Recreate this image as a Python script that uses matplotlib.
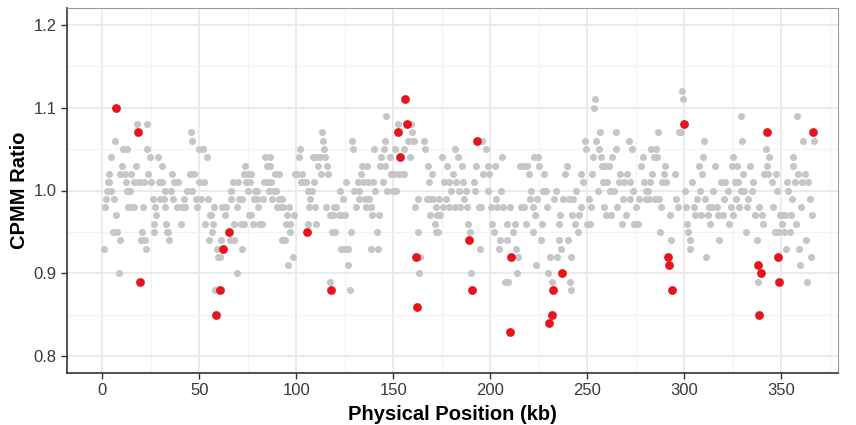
import matplotlib
matplotlib.use("Agg")
import matplotlib.pyplot as plt
from matplotlib.ticker import MultipleLocator

# graue Punkte (Position kb, Ratio)
x_grau = [0.9, 1.4, 1.7, 2.2, 2.8, 3.1, 3.5, 4.3, 4.5, 5.2, 5.9, 6.4, 7.2, 7.6, 8.3, 8.8, 9.1, 9.8,
          10.7, 11.4, 12.2, 12.7, 12.7, 13.4, 14.1, 14.6, 15.0, 16.0, 16.5, 17.2, 17.7, 18.6, 19.6,
          20.3, 20.8, 21.2, 22.0, 22.4, 22.9, 23.2, 23.7, 24.4, 25.2, 25.8, 26.3, 26.8, 27.2, 27.7,
          28.4, 28.9, 29.9, 30.6, 30.9, 31.5, 32.0, 32.3, 32.8, 33.4, 34.0, 34.4, 35.1, 35.8, 36.3,
          36.9, 38.3, 38.7, 40.4, 40.9, 41.8, 42.6, 43.5, 44.9, 45.6, 46.1, 46.4, 47.3, 48.3, 48.8,
          49.5, 50.0, 50.9, 51.6, 52.1, 52.9, 53.8, 54.3, 54.7, 55.2, 56.0, 56.4, 57.2, 57.6, 58.1,
          58.9, 59.5,
          60.5, 61.0, 61.7, 63.1, 63.9, 65.7, 66.2, 66.5, 67.2, 67.7, 67.9, 69.1, 69.4, 69.9, 70.5,
          71.2, 71.7, 72.0, 72.9, 73.0, 73.7, 74.2, 74.8, 75.1, 75.4, 76.1, 76.5, 76.8, 77.7, 78.0,
          78.5, 79.4, 79.9, 80.3, 80.8, 82.0, 82.8, 83.4, 84.0, 84.6, 85.4, 85.8, 86.3, 86.6, 87.1,
          87.5, 88.3, 88.9, 89.7, 89.9, 90.9, 91.1, 91.8, 92.3, 92.6, 93.3, 94.0, 94.5, 95.2, 95.4,
          96.1, 96.6, 96.9, 98.3, 98.8, 99.5, 100.2, 101.2, 101.7, 102.1, 102.6, 104.0, 104.7,
          105.7, 106.0, 106.5, 106.9, 107.8, 108.3, 109.1, 109.5, 110.3, 110.3, 111.2, 112.0, 112.6,
          113.3, 113.8, 114.3, 114.6, 115.0, 115.5, 116.3, 117.2, 117.5, 118.4, 118.9, 119.4, 120.1,
          120.6, 121.8, 122.4, 122.9, 123.2,
          123.9, 124.8, 124.8, 125.6, 126.5, 126.8, 127.7, 128.2, 128.7, 129.2, 129.9, 130.8, 131.6,
          132.0, 132.5, 133.3, 133.9, 134.2, 135.4, 135.9, 136.4, 137.1, 137.6, 138.2, 138.5, 139.0,
          139.4, 139.9, 140.6, 141.6, 141.9, 142.8, 143.1, 143.7, 144.5, 145.0, 145.4, 145.9, 146.2,
          146.8, 148.0, 148.5, 148.8, 149.7, 150.5, 151.0, 151.4, 152.6, 153.1, 154.8, 155.3, 155.7,
          157.4, 158.3, 159.1, 159.6, 160.0, 160.8, 161.2, 162.6, 162.9, 163.4, 163.9, 166.0, 166.5,
          167.4, 167.7, 168.2, 168.7, 169.1, 169.8, 170.3, 171.2, 171.7, 172.2, 172.5, 173.2, 173.7,
          174.2, 174.9, 175.4, 176.3, 177.2, 177.7, 178.4, 178.9, 179.7, 180.6, 181.5, 181.8, 182.3,
          183.2, 184.0, 184.5, 185.2, 185.8, 186.6,
          187.3, 187.8, 188.5, 189.5, 189.9, 191.3, 191.9, 192.5, 194.2, 194.5, 195.0, 195.9, 196.4,
          197.6, 198.5, 198.8, 199.3, 200.2, 201.0, 201.6, 202.4, 202.9, 203.6, 204.5, 205.0, 205.7,
          206.2, 206.7, 207.4, 208.4, 208.8, 209.1, 209.9, 211.4, 212.6, 213.4, 213.9, 214.4, 215.3,
          216.0, 217.0, 217.4, 218.2, 219.1, 219.9, 220.5, 220.8, 221.7, 222.2, 222.5, 223.0, 223.4,
          223.9, 224.6, 225.1, 225.9, 226.5, 227.2, 227.7, 228.5, 229.4, 229.9, 230.8, 232.0, 232.8,
          233.7, 234.5, 235.1, 235.6, 235.9, 236.6, 237.6, 238.5, 239.4, 240.0, 240.6, 241.1, 241.4,
          241.8, 242.3, 242.8, 243.7, 244.0, 244.9, 245.7, 246.6, 246.9, 247.9, 248.6, 249.1, 250.0,
          250.7, 251.2, 251.6, 252.4, 253.0, 253.3, 253.8, 254.5, 255.3, 255.9, 256.7, 257.1, 257.6,
          257.9, 258.8, 259.3, 259.6, 260.2, 261.0, 261.5, 262.2, 262.7, 263.6, 264.5, 265.0, 265.3,
          266.2, 267.0, 267.9, 268.4, 269.1, 270.1, 270.5, 271.3, 271.8, 272.2, 273.0, 273.4, 273.9,
          275.3, 276.0, 276.8, 277.7, 278.7, 279.4, 280.0, 280.4, 281.1, 281.6, 282.5, 282.8, 283.4,
          284.2, 284.7, 285.4, 285.9, 286.3, 286.8, 287.3, 288.0, 288.5, 289.4, 290.2, 290.7, 292.5,
          293.3, 295.0, 295.9, 296.6, 297.1, 298.5, 298.8, 299.3, 300.2, 300.9, 301.4, 301.9, 302.8,
          303.1, 304.0, 304.8, 305.7, 306.6, 307.4, 307.9, 308.6, 309.1, 309.6, 310.3, 310.8, 311.4,
          312.0, 312.6, 313.4,
          314.1, 314.6, 315.8, 316.7, 317.5, 318.1, 318.7, 319.8, 320.5, 321.0, 322.7, 323.2, 323.9,
          324.4, 324.9, 325.3, 326.1, 326.7, 327.0, 327.9, 328.4, 329.1, 329.2, 329.7, 330.4, 330.9,
          331.8, 332.5, 333.0, 333.9, 334.7, 335.6, 336.4, 337.3, 338.2, 338.7, 339.9, 340.7, 341.3,
          342.1, 342.5, 343.3, 343.8, 345.0, 345.9, 346.8, 347.3, 347.6, 348.5, 349.3, 350.2, 350.7,
          351.4, 351.9, 352.4, 353.1, 353.6, 354.5, 355.0, 355.3, 355.9, 356.2, 357.1, 357.6, 358.3,
          358.8, 359.3, 359.6, 360.0, 360.5, 361.4, 362.2, 362.7, 363.1, 363.9, 364.8, 365.3, 366.0,
          366.9]
y_grau = [0.93, 0.98, 0.99, 1.00, 1.01, 1.02, 1.01, 1.04, 1.00, 0.95, 0.99, 1.06, 0.97, 0.95, 0.90, 0.94, 1.02, 1.03,
          1.05, 1.02, 1.01, 1.05, 1.00, 0.98, 1.00, 1.02, 0.98, 1.01, 0.98, 1.03, 1.08, 1.01, 0.94,
          0.95, 0.98, 1.01, 0.94, 0.93, 1.05, 1.08, 1.02, 1.04, 1.01, 0.99, 0.96, 0.95, 0.98, 0.97,
          1.04, 1.01, 0.99, 1.01, 1.03, 0.99, 0.98, 1.00, 0.96, 0.95, 0.95, 0.94, 1.00, 1.02, 0.99,
          1.01, 0.98, 1.01, 0.96, 0.98, 0.99, 0.98, 1.00, 1.02, 1.07, 1.06, 1.00, 1.02, 0.99, 0.98,
          1.01, 1.05, 0.99, 1.05, 1.01, 0.96, 1.04, 0.99, 0.94, 0.97, 0.97, 0.95, 0.96, 0.98, 0.88,
          0.93, 0.92,
          0.92, 0.94, 0.98, 0.97, 0.98, 0.94, 0.99, 1.00, 1.01, 0.96, 0.94, 0.90, 0.98, 1.01, 0.99,
          0.96, 0.93, 0.99, 0.96, 1.02, 1.03, 1.01, 1.02, 1.00, 0.97, 1.01, 1.02, 0.97, 0.96, 0.99,
          1.00, 0.99, 1.00, 0.98, 0.96, 0.96, 0.99, 1.01, 1.04, 1.03, 1.01, 1.00, 1.04, 1.03, 1.01,
          0.99, 1.00, 1.02, 1.00, 0.98, 1.02, 0.99, 0.98, 0.94, 0.99, 0.98, 0.94, 0.96, 0.97, 0.91,
          0.98, 0.95, 0.96, 0.92, 0.97, 1.02, 1.02, 1.04, 1.05, 1.01, 1.02, 1.01, 1.01,
          1.00, 0.96, 0.98, 0.99, 1.00, 1.04, 1.01, 0.98, 1.04, 0.96, 1.03, 1.04, 1.02,
          1.07, 1.06, 1.05, 1.04, 0.98, 1.03, 1.02, 0.97, 0.89, 0.95, 0.97, 0.98, 0.95,
          0.98, 0.97, 1.00, 0.93, 0.97,
          0.99, 0.97, 0.93, 1.01, 0.93, 0.91, 0.88, 0.95, 1.06, 1.05, 1.00, 0.98, 1.01,
          0.99, 1.00, 1.02, 1.03, 1.01, 0.99, 0.98, 1.03, 1.01, 0.99, 0.98, 0.93, 0.97,
          1.01, 1.05, 1.00, 0.95, 0.93, 0.97, 1.03, 1.04, 1.01, 1.05, 1.06, 1.03, 1.09,
          1.00, 1.04, 1.02, 1.02, 1.00, 1.02, 1.05, 1.00, 1.08, 1.02, 1.02, 1.05, 1.02,
          1.06, 1.04, 1.08, 1.07, 1.06, 1.06, 0.98, 0.95, 0.99, 0.90, 0.92, 1.06, 1.05,
          0.99, 1.03, 1.01, 0.99, 0.97, 1.02, 0.99, 0.96, 0.95, 0.98, 0.97, 0.95, 0.99,
          0.97, 1.04, 0.98, 1.01, 0.99, 1.03, 0.98, 1.01, 1.00, 1.02, 1.05, 0.98, 1.01,
          1.04, 1.00, 0.98, 1.03, 1.01, 0.99,
          1.00, 0.98, 0.96, 0.95, 0.90, 1.01, 1.00, 1.03, 0.98, 0.93, 0.98, 1.06, 1.02,
          1.05, 1.00, 1.03, 1.02, 0.98, 0.96, 0.95, 1.03, 0.99, 0.98, 0.93, 0.94, 1.00,
          1.04, 0.98, 0.89, 0.94, 0.96, 0.89, 0.98, 0.95, 0.96, 0.93, 0.90, 0.92, 1.03,
          0.98, 1.03, 0.98, 0.96, 1.03, 1.02, 0.99, 1.00, 0.95, 0.98, 1.04, 0.97, 0.91,
          0.99, 1.04, 1.03, 0.94, 0.96, 1.00, 1.02, 1.00, 0.98, 0.90, 0.92, 0.89, 0.99,
          1.00, 0.92, 0.94, 0.96, 0.97, 0.93, 0.99, 1.02, 1.03, 0.94, 0.99, 0.89, 0.88,
          0.92, 0.97, 0.99, 0.96, 1.00, 0.95, 0.97, 0.98, 1.02, 1.01, 1.06, 1.05, 0.96,
          0.99, 0.96, 0.98, 1.02, 1.04, 1.10, 1.11, 1.06, 1.00, 1.05, 1.07, 1.04, 1.03,
          1.01, 0.98, 1.03, 0.97, 1.01, 1.03, 1.00, 0.97, 1.04, 1.00, 1.07, 1.05, 0.98,
          1.01, 1.02, 0.96, 0.99, 1.01, 0.97, 1.02, 1.06, 1.01, 0.99, 1.05, 1.00, 0.96,
          0.98, 0.96, 0.99, 1.03, 1.04, 1.01, 0.99, 1.00, 1.00, 0.99, 1.01, 1.05, 1.02,
          1.04, 0.99, 1.05, 1.04, 1.07, 0.99, 0.95, 0.98, 1.01, 1.02, 1.03, 1.01, 0.97,
          0.94, 1.02, 0.99, 0.98, 1.07, 1.07, 1.12, 1.11, 1.00, 0.98, 0.96, 0.95, 0.94,
          0.93, 1.01, 0.98, 0.97, 0.99, 1.03, 1.00, 0.97, 1.02, 1.04, 1.06, 0.99, 0.92,
          0.97, 0.98, 0.96,
          0.98, 1.00, 1.03, 0.98, 0.97, 0.94, 1.01, 0.97, 0.99, 1.01, 1.00, 0.96, 0.98,
          1.03, 0.97, 1.04, 1.01, 0.99, 1.03, 1.01, 0.98, 1.00, 1.09, 1.06, 1.02, 1.00,
          0.95, 0.98, 0.99, 1.03, 1.00, 1.01, 0.97, 0.94, 0.89, 0.98, 0.97, 0.96, 1.02,
          1.05, 1.03, 1.02, 1.04, 1.01, 0.98, 0.95, 1.02, 1.00, 0.95, 0.97, 0.96, 0.97,
          0.95, 0.97, 0.93, 1.01, 1.00, 0.95, 0.97, 0.99, 1.04, 1.03, 1.01, 0.96, 1.09,
          1.02, 0.93, 0.91, 0.98, 1.01, 1.06, 1.02, 0.94, 0.89, 1.01, 0.99, 0.92, 0.97,
          1.06]

# rote Punkte
x_rot = [6.9, 18.2, 19.1, 58.3, 60.4, 62.1, 65.3, 105.5, 118.0, 152.4, 153.5, 156.2, 156.9,
         161.5, 162.0, 188.7, 190.4, 193.3, 210.2, 210.7, 230.4, 231.6, 232.5, 237.0, 291.4,
         291.9, 293.8, 299.8, 337.8, 338.7, 339.4, 342.6, 348.5, 348.8, 366.2]
y_rot = [1.10, 1.07, 0.89, 0.85, 0.88, 0.93, 0.95, 0.95, 0.88, 1.07, 1.04, 1.11, 1.08,
         0.92, 0.86, 0.94, 0.88, 1.06, 0.83, 0.92, 0.84, 0.85, 0.88, 0.90, 0.92,
         0.91, 0.88, 1.08, 0.91, 0.85, 0.90, 1.07, 0.92, 0.89, 1.07]

plt.rcParams['font.family'] = ['Liberation Sans', 'DejaVu Sans']

fig = plt.figure(figsize=(8.56, 4.25), dpi=100)
ax = fig.add_axes([67/856, 52/425, (838-67)/856, (373-8)/425])

ax.scatter(x_grau, y_grau, s=26, color='#c6c6c6', linewidths=0, zorder=2)
ax.scatter(x_rot, y_rot, s=40, color='#e8141c', linewidths=0, zorder=3)

ax.set_xlim(-18.3, 379.2)
ax.set_ylim(0.78, 1.22)
ax.set_xticks([0, 50, 100, 150, 200, 250, 300, 350])
ax.set_yticks([0.8, 0.9, 1.0, 1.1, 1.2])
ax.xaxis.set_minor_locator(MultipleLocator(25))
ax.yaxis.set_minor_locator(MultipleLocator(0.05))
ax.grid(which='major', color='#ebebeb', linewidth=1.4, zorder=0)
ax.grid(which='minor', color='#f2f2f2', linewidth=0.8, zorder=0)
ax.set_axisbelow(True)

ax.tick_params(which='major', direction='out', length=4, width=1, color='#333333',
               labelsize=12, labelcolor='#3a3a3a')
ax.tick_params(which='minor', length=0)

for s in ['left', 'bottom']:
    ax.spines[s].set_color('#333333')
    ax.spines[s].set_linewidth(1.2)
for s in ['top', 'right']:
    ax.spines[s].set_color('#9a9a9a')
    ax.spines[s].set_linewidth(0.8)

ax.set_xlabel("Physical Position (kb)", fontsize=14.5, fontweight='bold', labelpad=5)
ax.set_ylabel("CPMM Ratio", fontsize=14.5, fontweight='bold', labelpad=3)

fig.savefig("out.png", dpi=100)
